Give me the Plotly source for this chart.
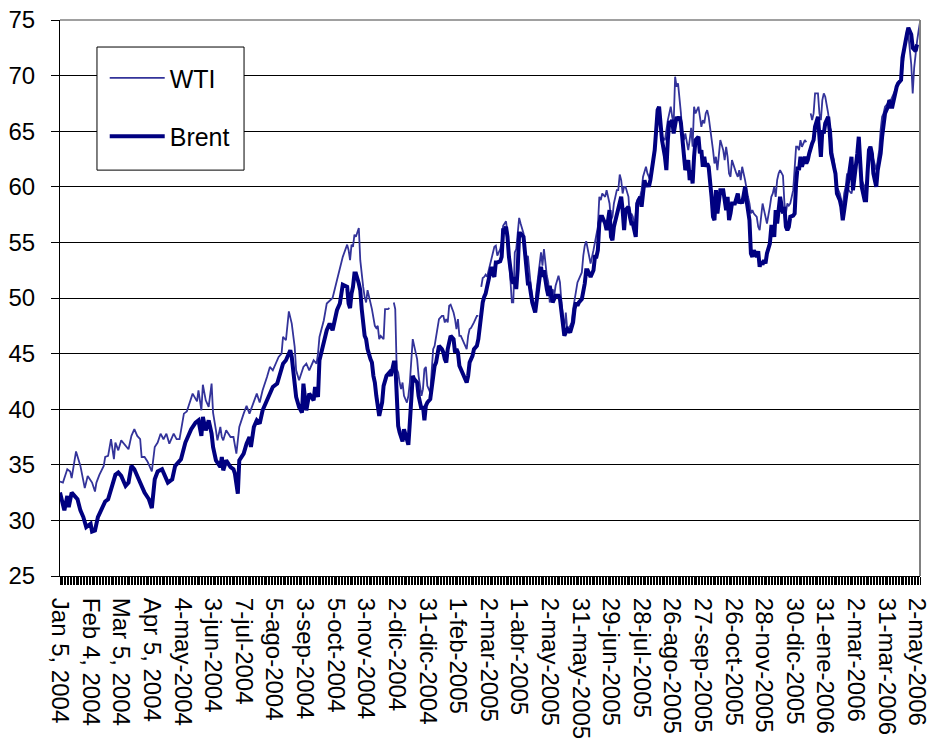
import plotly.graph_objects as go

# Category tick labels (one every 21 trading days)
tick_labels = [
    "Jan 5, 2004", "Feb 4, 2004", "Mar 5, 2004", "Apr 5, 2004", "4-may-2004",
    "3-jun-2004", "7-jul-2004", "5-ago-2004", "3-sep-2004", "5-oct-2004",
    "3-nov-2004", "2-dic-2004", "31-dic-2004", "1-feb-2005", "2-mar-2005",
    "1-abr-2005", "2-may-2005", "31-may-2005", "29-jun-2005", "28-jul-2005",
    "26-ago-2005", "27-sep-2005", "26-oct-2005", "28-nov-2005", "30-dic-2005",
    "31-ene-2006", "2-mar-2006", "31-mar-2006", "2-may-2006",
]
label_step = 21          # trading days between labels
n_days = 590             # trading days on the category axis

# WTI: (trading-day number, USD/bbl); None = missing quote
wti_points = [
    (0, 33.5), (2, 33.4), (5, 34.6), (7, 34.4), (8, 33.8), (11, 36.2), (14, 34.9), (17, 32.9),
    (19, 34.0), (22, 33.4), (24, 32.6), (25, 33.4), (27, 34.1), (30, 34.9), (31, 35.7), (33, 35.8),
    (35, 37.3), (37, 35.5), (38, 37.0), (40, 36.3), (42, 37.2), (45, 36.7), (47, 36.4), (49, 37.6),
    (51, 38.2), (53, 37.6), (55, 37.3), (56, 35.7), (58, 35.7), (60, 35.3), (62, 34.6), (63, 34.4),
    (65, 36.6), (67, 37.0), (69, 37.8), (71, 37.3), (73, 37.8), (75, 36.9), (78, 37.8), (80, 37.3),
    (82, 37.3), (85, 39.6), (87, 39.8), (89, 40.7), (91, 41.4), (94, 40.7), (95, 41.7), (97, 39.9),
    (98, 42.2),
    (100, 40.8), (102, 40.2), (104, 42.3), (105, 39.7), (107, 38.1), (108, 37.2), (110, 38.4),
    (111, 37.5), (112, 37.2), (114, 38.1), (117, 37.5), (119, 37.5), (121, 36.0), (123, 38.4),
    (126, 39.6), (128, 40.3), (130, 39.6), (133, 40.8), (135, 41.4), (137, 40.6), (139, 41.7),
    (142, 42.9), (144, 43.8), (146, 43.5), (150, 44.7), (152, 45.0), (153, 46.5), (155, 46.2),
    (157, 48.8), (159, 47.7), (161, 45.6), (162, 43.5), (164, 42.6), (167, 43.8), (169, 44.1),
    (171, 43.5), (174, 44.4), (176, 44.1), (177, 45.0), (178, 46.5), (181, 48.0), (183, 49.5),
    (185, 49.8), (187, 50.0), (190, 51.6), (192, 52.8), (194, 53.7), (197, 54.8), (198, 54.3),
    (199, 53.4), (200, 54.8), (201, 54.6), (202, 55.7), (203, 55.5), (205, 56.3), (206, 53.4),
    (207, 51.9), (208, 51.0), (209, 50.1), (210, 49.6), (211, 50.7), (213, 49.6), (214, 49.0),
    (216, 47.5), (217, 47.3), (218, 47.5), (219, 46.3), (220, 46.6), (222, 46.3), (223, 49.0),
    (225, 49.0), (226, 49.1), (227, None), (229, 49.6), (230, 49.0), (231, 43.6), (232, 43.3),
    (233, 42.4), (234, 41.8), (235, 42.4), (236, 41.2), (238, 40.6), (239, 41.2), (240, 42.4),
    (241, 44.5), (242, 46.3), (243, 45.7), (245, 44.5), (246, 43.0), (247, 41.8), (248, 41.2),
    (249, 41.8), (250, 43.6), (251, 43.8), (252, 42.1), (254, 41.5), (255, 43.3), (256, 45.4),
    (257, 45.7), (259, 47.2), (260, 48.1), (262, 48.4), (263, 48.4), (264, 47.8), (265, 48.1),
    (266, 47.8), (267, 49.3), (268, 49.4), (270, 48.7), (271, 48.1), (272, 47.2), (273, 48.1),
    (274, 46.6), (275, 46.6), (276, 46.3), (278, 45.7), (279, 45.4), (280, 46.6), (281, 47.2),
    (282, 47.3), (283, 47.5), (284, 47.8), (286, 48.4), (287, 48.4), (288, None), (289, 51.0),
    (290, 51.8), (291, 51.9), (292, 52.1), (293, 51.9), (295, 53.1), (296, 53.7), (297, 54.3),
    (298, 54.6),
    (299, 54.7), (300, 53.8), (302, 54.4), (303, 55.0), (304, 56.5), (305, 56.7), (306, 56.9),
    (307, 55.8), (308, 53.8), (310, 49.6), (311, 49.6), (312, 54.1), (313, 54.4), (314, 55.6),
    (315, 57.2), (316, 56.7), (318, 55.8), (319, 54.4), (320, 52.9), (321, 53.8), (322, 52.0),
    (323, 51.1), (324, 49.9), (326, 49.0), (327, 50.8), (328, 52.0), (329, 52.9), (330, 54.1),
    (331, 52.9), (332, 54.4), (334, 52.0), (335, 51.4), (336, 49.6), (337, 50.2), (338, 50.8),
    (339, 50.2), (340, 51.1), (342, 52.0), (343, 51.4), (344, 49.6), (345, 48.4), (346, 47.2),
    (347, 48.7), (348, 47.2), (350, 47.5), (351, 47.8), (352, 49.0), (353, 49.9), (354, 50.5),
    (355, 51.4), (356, 51.7), (358, 52.3), (359, 53.8), (360, 54.7), (361, 55.1), (362, 54.3),
    (363, 53.8), (364, 53.1), (366, 54.3), (367, 55.0), (368, 55.5), (369, 56.4), (370, 59.1),
    (371, 58.8), (372, 59.4), (374, 59.1), (375, 59.7), (376, 59.1), (377, 58.5), (378, 57.0),
    (379, 57.3), (380, 58.5), (382, 59.7), (383, 59.7), (384, 61.1), (385, 60.6), (386, 59.4),
    (387, 60.0), (388, 60.0), (390, 59.1), (391, 57.0), (392, 57.6), (393, 57.3), (394, 56.4),
    (395, 57.9), (396, 58.8), (398, 59.1),
    (399, 59.7), (400, 60.9), (401, 61.5), (402, 61.8), (403, 61.2), (404, 60.9), (405, 60.6),
    (407, 62.4), (408, 63.6), (409, 64.8), (410, 66.0), (411, 66.9), (412, 65.7), (413, 64.5),
    (415, 64.2), (416, 65.4), (417, 66.0), (418, 66.6), (419, 67.2), (420, 66.3), (421, 65.7),
    (422, 69.9), (423, 69.0), (424, 69.3), (425, 68.1), (426, 66.6), (427, 64.5), (428, 64.2),
    (429, 64.8), (431, 63.3), (432, 64.2), (433, 65.3), (434, 63.6), (435, 67.2), (436, 66.6),
    (438, 67.2), (439, 66.3), (440, 65.4), (441, 66.0), (442, 65.7), (443, 66.6), (444, 66.9),
    (445, 66.3), (447, 64.5), (448, 63.3), (449, 62.1), (450, 62.7), (451, 61.5), (452, 63.3),
    (453, 64.2), (455, 63.3), (456, 62.4), (457, 63.6), (458, 62.7), (459, 61.2), (460, 60.9),
    (461, 62.4), (463, 61.5), (464, 61.2), (465, 60.9), (466, 61.5), (467, 60.6), (468, 61.8),
    (470, 60.6), (471, 59.7), (472, 59.1), (473, 58.5), (474, 57.6), (475, 57.9), (476, 57.6),
    (478, 57.3), (479, 56.4), (480, 56.1), (481, 57.6), (482, 58.5), (483, 57.9), (484, 57.3),
    (485, 56.7), (487, 58.2), (488, 59.1), (489, 59.4), (490, 60.0), (491, 59.1), (492, 60.6),
    (493, 61.2), (494, 61.5), (496, 61.0),
    (497, 58.5), (498, 57.6), (499, 58.5), (500, 58.3), (501, 58.5), (503, 59.7), (504, 61.8),
    (505, 63.6), (506, 63.6), (507, 63.3), (508, 64.2), (509, 63.6), (511, 64.2), (512, 64.0),
    (513, None), (515, 66.6), (516, 66.0), (517, 66.6), (518, 68.4), (520, 68.4), (521, 66.6),
    (522, 66.0), (523, 67.8), (524, 68.4), (525, 68.1), (527, 66.6), (528, 65.4), (529, 65.1),
    (530, 63.0), (531, 62.4), (532, 61.2), (533, 60.0), (535, 59.4), (536, 58.8), (537, 58.2),
    (538, 59.4), (539, 60.0), (540, 61.2), (541, 59.7), (543, 59.4), (544, 60.0), (545, 60.6),
    (546, 61.8), (547, 63.0), (548, 63.6), (549, 61.8), (550, 60.6), (552, 60.0), (553, 59.4),
    (554, 61.8), (555, 63.0), (556, 63.6), (557, 63.0), (558, 62.4), (560, 61.5), (561, 62.4),
    (562, 63.3), (563, 65.1), (564, 66.3), (565, 66.6), (566, 67.2), (568, 67.5), (569, 67.8),
    (570, 67.8), (571, 68.1), (572, 68.4), (573, 68.7), (574, 69.0), (575, 69.3), (577, 69.6),
    (578, 71.0), (579, 72.2), (580, 73.1), (581, 74.0), (582, 73.7), (584, 71.0), (585, 68.4),
    (586, 70.7), (587, 72.2), (588, 73.1), (589, 74.0), (590, 74.8),
]

# Brent: (trading-day number, USD/bbl)
brent_points = [
    (0, 32.5), (2, 31.5), (3, 30.9), (5, 32.2), (6, 31.2), (8, 32.5), (10, 32.2), (12, 31.9),
    (14, 30.9), (16, 30.3), (18, 29.4), (21, 29.7), (22, 29.0), (24, 29.1), (26, 30.3), (29, 31.2),
    (31, 31.7), (33, 31.9), (35, 32.8), (38, 34.1), (40, 34.3), (42, 34.0), (45, 33.1), (47, 33.4),
    (49, 34.9), (51, 34.6), (54, 33.7), (56, 33.1), (58, 32.5), (61, 31.9), (63, 31.1), (65, 33.7),
    (67, 34.4), (70, 34.6), (72, 34.0), (74, 33.4), (77, 33.7), (79, 34.9), (81, 35.2), (83, 35.5),
    (86, 37.0), (88, 37.6), (90, 38.2), (93, 38.8), (95, 39.0), (97, 37.6), (98, 39.3),
    (100, 38.1), (102, 39.0), (103, 38.4), (104, 37.8), (105, 36.6), (107, 35.4), (110, 34.8),
    (111, 35.7), (112, 34.5), (114, 35.4), (117, 34.8), (119, 34.6), (120, 34.2), (122, 32.4),
    (123, 35.4), (126, 36.0), (128, 36.9), (130, 37.5), (131, 36.6), (133, 38.4), (135, 39.0),
    (137, 38.7), (139, 39.9), (142, 40.8), (144, 41.4), (146, 42.0), (149, 42.3), (151, 43.2),
    (153, 44.1), (155, 44.4), (158, 45.3), (159, 44.7), (160, 43.5), (162, 41.1), (164, 40.2),
    (166, 39.7), (167, 42.3), (168, 40.5), (169, 39.9), (171, 41.4), (174, 40.8), (175, 42.0),
    (177, 41.1), (178, 44.4), (181, 46.2), (183, 47.1), (185, 47.7), (187, 47.1), (190, 48.9),
    (192, 49.5), (194, 51.2), (197, 51.0), (198, 49.5),
    (199, 49.1), (200, 50.4), (201, 51.0), (202, 52.2), (203, 52.2), (205, 51.3), (206, 50.7),
    (207, 49.0), (208, 47.5), (209, 46.6), (210, 46.3), (211, 45.4), (213, 44.5), (214, 44.2),
    (215, 43.0), (216, 42.4), (217, 41.2), (218, 40.0), (219, 39.4), (221, 40.6), (222, 42.1),
    (224, 43.0), (226, 43.3), (227, 43.0), (229, 44.2), (230, 44.2), (231, 41.2), (232, 38.5),
    (233, 37.9), (234, 37.4), (235, 37.1), (236, 38.2), (238, 37.1), (239, 36.8), (240, 38.8),
    (241, 41.2), (242, 43.0), (243, 42.7), (245, 42.4), (246, 41.2), (247, 40.3), (248, 40.0),
    (249, 40.3), (250, 39.0), (251, 40.3), (252, 40.6), (254, 40.9), (256, 43.0), (257, 43.9),
    (258, 44.2), (259, 45.1), (260, 45.7), (262, 45.4), (263, 45.1), (264, 44.5), (265, 44.2),
    (266, 45.4), (267, 46.0), (268, 46.6), (270, 46.3), (271, 45.1), (272, 45.4), (273, 45.1),
    (274, 43.9), (275, 43.6), (276, 43.3), (278, 42.7), (279, 42.4), (280, 43.0), (281, 44.2),
    (282, 44.5), (283, 44.8), (284, 45.4), (286, 45.7), (287, 46.3), (288, 47.5), (289, 48.7),
    (290, 49.6), (291, 50.1), (292, 50.4), (293, 51.0), (295, 52.2), (296, 52.8), (297, 52.2),
    (298, 51.9),
    (299, 53.2), (300, 53.2), (302, 53.3), (303, 53.7), (304, 56.1), (305, 56.1), (306, 56.4),
    (307, 55.5), (308, 53.7), (310, 51.6), (311, 51.3), (312, 51.9), (313, 50.8), (314, 52.6),
    (315, 55.8), (316, 55.8), (318, 55.5), (319, 53.7), (320, 51.9), (321, 51.3), (322, 51.3),
    (323, 50.2), (324, 49.6), (326, 48.7), (327, 49.6), (328, 51.1), (329, 51.9), (330, 52.8),
    (331, 51.9), (332, 52.5), (334, 50.8), (335, 50.2), (336, 51.1), (337, 50.2), (338, 49.6),
    (340, 50.2), (342, 50.2), (343, 49.9), (344, 49.0), (345, 47.8), (346, 46.6), (347, 46.9),
    (348, 47.2), (350, 46.9), (351, 47.5), (352, 47.8), (353, 49.0), (354, 49.6), (355, 49.3),
    (356, 49.6), (358, 49.9), (359, 50.5), (360, 51.3), (361, 52.5), (362, 52.5), (363, 52.2),
    (364, 51.9), (366, 52.5), (367, 53.7), (368, 53.7), (369, 54.3), (370, 56.7), (371, 57.3),
    (372, 57.3), (374, 56.7), (375, 56.1), (376, 57.3), (377, 57.9), (378, 55.5), (379, 55.2),
    (380, 56.4), (382, 57.6), (383, 58.2), (384, 58.8), (385, 59.1), (386, 57.9), (387, 56.1),
    (388, 57.9), (390, 58.2), (391, 57.3), (392, 56.7), (393, 56.7), (394, 56.1), (395, 55.5),
    (396, 58.5), (398, 59.1),
    (399, 58.2), (400, 60.0), (401, 60.6), (402, 60.0), (403, 60.3), (404, 60.0), (405, 60.6),
    (407, 62.4), (408, 63.3), (409, 65.1), (410, 66.9), (411, 67.2), (412, 65.7), (413, 64.2),
    (415, 62.7), (416, 61.5), (417, 64.2), (418, 65.9), (419, 65.7), (420, 66.0), (421, 64.8),
    (423, 66.3), (424, 66.0), (425, 66.3), (426, 65.7), (427, 64.2), (428, 63.6), (429, 61.5),
    (431, 62.4), (432, 60.6), (433, 61.5), (434, 60.3), (435, 62.7), (436, 64.2), (438, 64.5),
    (439, 63.0), (440, 63.3), (441, 61.8), (442, 62.7), (443, 61.8), (444, 62.1), (445, 61.8),
    (447, 59.1), (448, 57.3), (449, 57.0), (450, 59.7), (451, 57.6), (452, 59.1), (453, 59.7),
    (455, 59.7), (456, 58.5), (457, 57.9), (458, 59.1), (459, 57.0), (460, 57.6), (461, 58.5),
    (463, 58.5), (464, 59.1), (465, 59.4), (466, 58.5), (467, 58.8), (468, 58.5), (470, 60.0),
    (471, 58.8), (472, 57.6), (473, 57.0), (474, 54.0), (475, 53.7), (476, 54.3), (478, 53.7),
    (479, 54.2), (480, 52.8), (481, 53.3), (482, 53.0), (483, 53.4), (484, 53.1), (485, 54.0),
    (487, 54.9), (488, 56.4), (489, 56.4), (490, 55.5), (491, 57.9), (492, 56.7), (493, 58.5),
    (494, 59.1),
    (496, 57.6), (497, 58.2), (498, 56.4), (499, 56.1), (500, 56.4), (501, 57.3), (503, 57.4),
    (504, 57.6), (505, 60.3), (506, 61.8), (507, 61.5), (508, 62.7), (509, 61.8), (511, 62.7),
    (512, 62.1), (513, 62.4), (514, 63.0), (515, 63.6), (516, 63.9), (517, 64.2), (518, 65.4),
    (520, 66.3), (521, 64.8), (522, 62.7), (523, 65.1), (524, 64.8), (525, 65.7), (527, 66.3),
    (528, 65.1), (529, 63.0), (530, 62.4), (531, 61.8), (532, 61.2), (533, 59.4), (535, 58.8),
    (536, 58.2), (537, 57.0), (538, 57.9), (539, 58.8), (540, 59.7), (541, 60.6), (543, 62.7),
    (544, 59.7), (545, 60.6), (546, 61.8), (547, 63.0), (548, 64.5), (549, 62.1), (550, 60.0),
    (552, 58.8), (553, 58.8), (554, 61.2), (555, 63.3), (556, 63.6), (557, 63.0), (558, 61.2),
    (560, 60.0), (561, 61.5), (562, 62.1), (563, 63.0), (564, 64.5), (565, 65.4), (566, 66.6),
    (568, 67.2), (569, 67.8), (570, 67.2), (571, 67.2), (572, 67.8), (573, 68.7), (574, 69.0),
    (575, 69.3), (577, 69.6), (578, 71.6), (579, 72.5), (580, 73.1), (581, 73.7), (582, 74.3),
    (584, 73.7), (585, 72.5), (587, 72.2), (588, 72.8),
]

wti_day = [d for d, _ in wti_points]
wti_price = [p for _, p in wti_points]
brent_day = [d for d, _ in brent_points]
brent_price = [p for _, p in brent_points]

FONT = "Liberation Sans, Arial, sans-serif"

fig = go.Figure()
fig.add_trace(go.Scatter(
    x=wti_day, y=wti_price, name="WTI", mode="lines", legendgroup="wti",
    line=dict(color="#33339a", width=1.8), connectgaps=False,
))
fig.add_trace(go.Scatter(
    x=brent_day, y=brent_price, name="Brent", mode="lines", legendgroup="brent",
    line=dict(color="#000080", width=4), connectgaps=False,
))

tickvals = [k * label_step for k in range(len(tick_labels))]

fig.update_layout(
    width=936, height=747,
    margin=dict(l=60, r=16, t=20, b=171),
    paper_bgcolor="white", plot_bgcolor="white",
    font=dict(family=FONT, size=24, color="black"),
    showlegend=True,
    legend=dict(
        x=0.052, y=0.937, xanchor="left", yanchor="top",
        bgcolor="rgba(0,0,0,0)", borderwidth=0,
        font=dict(family=FONT, size=25, color="black"),
        itemwidth=55, tracegroupgap=23, traceorder="grouped",
    ),
    xaxis=dict(
        range=[0, n_days], tickmode="array", tickvals=tickvals, ticktext=tick_labels,
        tickangle=90, ticks="outside", ticklen=8, tickcolor="black", tickwidth=1,
        showline=True, linecolor="black", linewidth=1, showgrid=False, zeroline=False,
        ticklabelstandoff=8, automargin=False, ticklabeloverflow="allow",
        minor=dict(tickmode="linear", tick0=0, dtick=1, ticks="outside", ticklen=8,
                   tickcolor="black", tickwidth=1, showgrid=False),
        tickfont=dict(family=FONT, size=24, color="black"),
    ),
    yaxis=dict(
        range=[25, 75], tickmode="linear", tick0=25, dtick=5,
        ticks="outside", ticklen=8, tickcolor="black",
        showline=True, linecolor="black", linewidth=1,
        showgrid=True, gridcolor="black", gridwidth=1, zeroline=False,
        ticklabelstandoff=11, automargin=False, ticklabeloverflow="allow",
        tickfont=dict(family=FONT, size=24, color="black"),
    ),
    shapes=[
        dict(type="line", xref="paper", yref="paper", x0=0, x1=1, y0=1, y1=1,
             line=dict(color="#808080", width=1.5), layer="above"),
        dict(type="line", xref="paper", yref="paper", x0=1, x1=1, y0=0, y1=1,
             line=dict(color="#808080", width=2), layer="above"),
        # legend frame
        dict(type="rect", xref="paper", yref="paper", x0=0.043, x1=0.214, y0=0.730, y1=0.9514,
             line=dict(color="black", width=1), fillcolor="white", layer="above"),
    ],
)

# remove the default 8px page margin so the 936x747 figure fills the window exactly
fig.write_html(
    "out.html",
    config={"displayModeBar": False},
    post_script="document.body.style.margin='0';document.body.style.overflow='hidden';",
)
